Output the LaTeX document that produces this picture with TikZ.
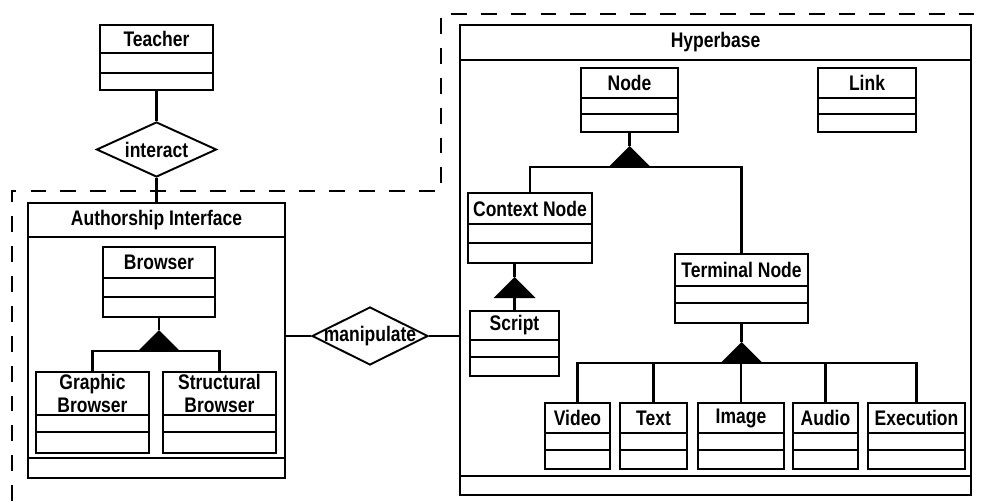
\documentclass[tikz,border=0pt]{standalone}
\usepackage{fontspec}
\setmainfont{Liberation Sans}[FakeStretch=0.83]
\usetikzlibrary{calc,fit,shapes.geometric}

\newcommand{\clsfont}{\fontsize{12}{13}\selectfont\bfseries}
% class box: name, left, top, right, bottom, first divider, second divider, title
\newcommand{\umlclass}[8]{%
  \node[cls, fit={(#2,#3) (#4,#5)}] (#1) {};
  \draw[divider] (#2,#6) -- (#4,#6) (#2,#7) -- (#4,#7);
  \node[clstitle] (#1-t) at ($(#2,#3)!0.5!(#4,#6)$) {#8};
}
% filled generalization triangle: name, apex x, apex y
\newcommand{\gentri}[3]{%
  \coordinate (#1) at (#2,#3);
  \coordinate (#1-b) at (#2,#3+21);
  \fill (#1) -- +(-21,21) -- +(21,21) -- cycle;
}

\begin{document}
\begin{tikzpicture}[
    x=0.02cm, y=-0.02cm,
    cls/.style={rectangle, draw=black, line width=1.2pt, inner sep=0pt},
    divider/.style={line width=1.1pt},
    clstitle/.style={font=\clsfont, inner sep=0pt, align=center},
    rel/.style={diamond, draw=black, line width=1.1pt, inner sep=0pt},
    reltext/.style={font=\clsfont, inner sep=0pt},
    link/.style={line width=1.2pt},
    region/.style={line width=1.2pt, dash pattern=on 9pt off 8pt}
]
\useasboundingbox (0,0) rectangle (983,501);

% authoring side
\umlclass{teacher}{100}{25}{213}{90}{53}{73}{Teacher}
\umlclass{author}{28}{203}{285}{478}{237}{458}{Authorship Interface}
\umlclass{browser}{103}{247}{215}{317}{278}{297}{Browser}
\umlclass{graphic}{36}{372}{149}{453}{415}{432}{Graphic\\Browser}
\umlclass{structural}{163}{372}{276}{453}{415}{432}{Structural\\Browser}

% hyperbase side
\umlclass{hyper}{460}{25}{971}{495}{60}{476}{Hyperbase}
\umlclass{hnode}{581}{68}{678}{132}{98}{114}{Node}
\umlclass{link}{818}{68}{916}{132}{98}{114}{Link}
\umlclass{ctx}{468}{193}{592}{263}{224}{243}{Context Node}
\umlclass{script}{470}{311}{559}{376}{340}{357}{Script}
\umlclass{term}{675}{254}{808}{323}{286}{303}{Terminal Node}
\umlclass{video}{545}{403}{610}{469}{433}{450}{Video}
\umlclass{txt}{620}{403}{687}{469}{433}{450}{Text}
\umlclass{image}{698}{403}{784}{469}{433}{450}{Image}
\umlclass{audio}{793}{403}{858}{469}{433}{450}{Audio}
\umlclass{exec}{868}{403}{965}{469}{433}{450}{Execution}

% relationships
\node[rel, minimum width=2.4cm, minimum height=1.1cm,
      label={[reltext]center:interact}] (interact) at (156.5,149.5) {};
\node[rel, minimum width=2.32cm, minimum height=1.16cm,
      label={[reltext]center:manipulate}] (manip) at (370,336) {};

\gentri{gBrowser}{159}{330}
\gentri{gNode}{629.5}{146}
\gentri{gScript}{514.5}{277}
\gentri{gTerm}{741.5}{342}

\draw[link] (teacher) -- (interact) -- (author);
\draw[link] (manip.west -| author.east) -- (manip.west) (manip.east) -- (manip.east -| hyper.west);
\draw[link] (browser.south) -- (gBrowser);
\draw[link] (graphic.north) |- (gBrowser-b) -| (structural.north);
\draw[link] (hnode.south) -- (gNode);
\draw[link] (ctx.north) |- (gNode-b) -| (term.north);
\draw[link] (ctx.south -| gScript) -- (gScript) (gScript-b) -- (script.north);
\draw[link] (term.south) -- (gTerm);
\draw[link] (video.north) |- (gTerm-b) -| (exec.north);
\foreach \leaf in {txt,image,audio}
  \draw[link] (\leaf.north) -- (\leaf.north |- gTerm-b);

% system boundary
\draw[region] (12,501) -- (12,191) -- (441,191) -- (441,14) -- (983,14);
\end{tikzpicture}
\end{document}
